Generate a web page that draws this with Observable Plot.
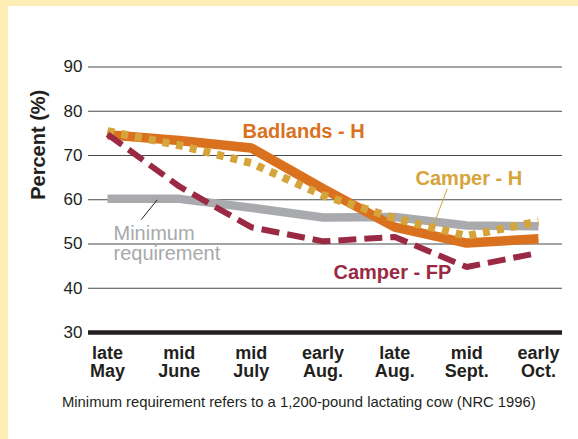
<!DOCTYPE html>
<html><head><meta charset="utf-8">
<script src="https://cdn.jsdelivr.net/npm/d3@7"></script>
<script src="https://cdn.jsdelivr.net/npm/@observablehq/plot@0.6"></script>
<style>
html,body{margin:0;padding:0;}
body{width:578px;height:439px;background:#FEEDB4;position:relative;overflow:hidden;font-family:"Liberation Sans",Arial,sans-serif;}
#panel{position:absolute;left:8px;top:6px;right:0;bottom:0;background:#fff;}
#chart{position:absolute;left:0;top:0;}
#caption{position:absolute;left:62px;top:395px;font-size:14.8px;line-height:14.8px;color:#231F20;white-space:nowrap;}
</style></head><body>
<div id="panel"></div>
<div id="chart"></div>
<div id="caption">Minimum requirement refers to a 1,200-pound lactating cow (NRC 1996)</div>
<script>
// categories (x) and tick labels
const periods = ["late\nMay","mid\nJune","mid\nJuly","early\nAug.","late\nAug.","mid\nSept.","early\nOct."];
const yTicks = [30,40,50,60,70,80,90];
// series values (percent)
const minimumRequirement = [60.2,60.2,58.2,56.0,56.1,54.2,54.0];
const badlandsH = [74.7,73.4,71.7,62.5,53.8,50.2,51.2];
const camperH = [75.5,72.3,68.3,61.0,55.8,51.8,55.1];
const camperFP = [74.8,63.0,53.8,50.6,51.6,44.8,48.0];
// annotations (in data coordinates: x = period index, y = percent)
const seriesLabels = [
  {text:"Badlands - H", x:1.879, y:73.9, color:"#DA711E"},
  {text:"Camper - H", x:4.288, y:63.25, color:"#D5A53B"},
  {text:"Camper - FP", x:3.146, y:42.0, color:"#9A2A44"}
];
const minLabel = [{text:"Minimum\nrequirement", x:0.0835, y:46.3}];
const leaders = [
  {x1:0.692, y1:60.0, x2:0.469, y2:55.5, color:"#231F20"},
  {x1:4.729, y1:62.5, x2:4.520, y2:53.45, color:"#D5A53B"}
];

const COL = {gray:"#A9AAAD", orange:"#DA711E", gold:"#D5A53B", maroon:"#9A2A44", ink:"#231F20"};

const chart = Plot.plot({
  width: 578,
  height: 385,
  marginLeft: 88,
  marginRight: 16,
  marginTop: 66.5,
  marginBottom: 53,
  style: {fontFamily: "'Liberation Sans', Arial, sans-serif", background: "transparent", overflow: "visible"},
  x: {type: "linear", domain: [-0.2645, 6.334]},
  y: {domain: [30, 90]},
  marks: [
    Plot.ruleY(yTicks.filter(d => d > 30), {stroke: "#4a4a4a", strokeWidth: 1.2}),
    Plot.ruleY([30], {stroke: COL.ink, strokeWidth: 4.5}),
    Plot.axisY(yTicks, {tickSize: 0, tickPadding: 6, fontSize: 17, color: COL.ink, label: null}),
    Plot.axisX(d3.range(periods.length), {tickSize: 0, tickPadding: 13, tickFormat: i => periods[i], fontSize: 18, fontWeight: "bold", lineHeight: 1.02, color: COL.ink, label: null}),
    Plot.text(["Percent (%)"], {frameAnchor: "left", dx: -50, rotate: -90, fontSize: 20, fontWeight: "bold", fill: COL.ink}),
    Plot.lineY(minimumRequirement, {stroke: COL.gray, strokeWidth: 8.5, strokeLinecap: "butt", strokeLinejoin: "miter"}),
    Plot.lineY(badlandsH, {stroke: COL.orange, strokeWidth: 9.5, strokeLinecap: "butt", strokeLinejoin: "miter"}),
    Plot.lineY(camperH, {stroke: COL.gold, strokeWidth: 8, strokeLinecap: "butt", strokeLinejoin: "miter", strokeDasharray: "7,7"}),
    Plot.lineY(camperFP, {stroke: COL.maroon, strokeWidth: 6, strokeLinecap: "butt", strokeLinejoin: "miter", strokeDasharray: "18,8"}),
    Plot.link(leaders, {x1: "x1", y1: "y1", x2: "x2", y2: "y2", stroke: "color", strokeWidth: 1}),
    Plot.text(seriesLabels, {x: "x", y: "y", text: "text", fill: "color", fontSize: 20, fontWeight: "bold", textAnchor: "start", lineAnchor: "bottom"}),
    Plot.text(minLabel, {x: "x", y: "y", text: "text", fill: "#A7A9AC", fontSize: 20, textAnchor: "start", lineAnchor: "bottom", lineHeight: 1.03})
  ]
});
document.getElementById("chart").appendChild(chart);
</script>
</body></html>
